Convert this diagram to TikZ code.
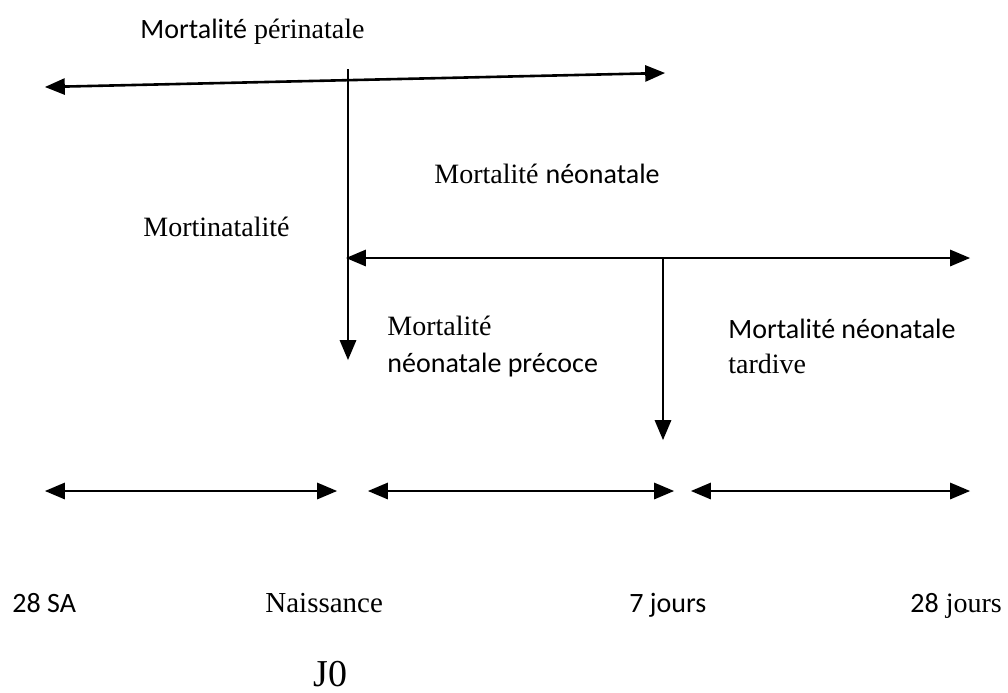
\documentclass[tikz,border=0pt]{standalone}
\usepackage{fontspec}
\setmainfont{Liberation Serif}
\newfontfamily\calib{Carlito}
\usetikzlibrary{arrows}

\begin{document}
\begin{tikzpicture}[x=0.5pt,y=-0.5pt]
	\tikzstyle{fleche}=[line width=1.3pt,-triangle 45]
	\tikzstyle{double}=[line width=1.3pt,triangle 45-triangle 45]
	\tikzstyle{txt}=[anchor=base west,inner sep=0pt,font=\fontsize{14}{18}\selectfont]
	\useasboundingbox (0,0) rectangle (1008,692);
	% axe perinatal
	\coordinate (P1) at (45,87);
	\coordinate (P2) at (665,73);
	\coordinate (N0) at (348,69);
	\coordinate (N1) at (348,360);
	\draw[double] (P1) -- (P2);
	\draw[fleche] (N0) -- (N1);
	% axe neonatal
	\coordinate (Q1) at (346,258);
	\coordinate (Q2) at (970,258);
	\coordinate (S0) at (663,258);
	\coordinate (S1) at (663,440);
	\draw[double] (Q1) -- (Q2);
	\draw[fleche] (S0) -- (S1);
	% periodes
	\coordinate (A1) at (45,491);
	\coordinate (A2) at (337,491);
	\coordinate (B1) at (368,491);
	\coordinate (B2) at (674,491);
	\coordinate (C1) at (691,491);
	\coordinate (C2) at (970,491);
	\draw[double] (A1) -- (A2);
	\draw[double] (B1) -- (B2);
	\draw[double] (C1) -- (C2);
	% textes
	\node[txt] (peri) at (140,38) {{\calib Mortalité} périnatale};
	\node[txt] (neo) at (434,183) {Mortalité {\calib néonatale}};
	\node[txt] (morti) at (143,236) {Mortinatalité};
	\node[txt] (prec1) at (387,335) {Mortalité};
	\node[txt] (prec2) at (387,372) {\calib néonatale précoce};
	\node[txt] (tard1) at (728,338) {\calib Mortalité néonatale};
	\node[txt] (tard2) at (728,373) {tardive};
	\node[txt] (sa) at (12,612) {\calib 28 SA};
	\node[txt,font=\fontsize{14.5}{18}\selectfont] (nais) at (265,612) {Naissance};
	\node[txt] (sept) at (629,612) {\calib 7 jours};
	\node[txt] (vingt) at (910,612) {{\calib 28} jours};
	\node[txt,font=\fontsize{19}{22}\selectfont] (j0) at (313,686) {J0};
\end{tikzpicture}
\end{document}
